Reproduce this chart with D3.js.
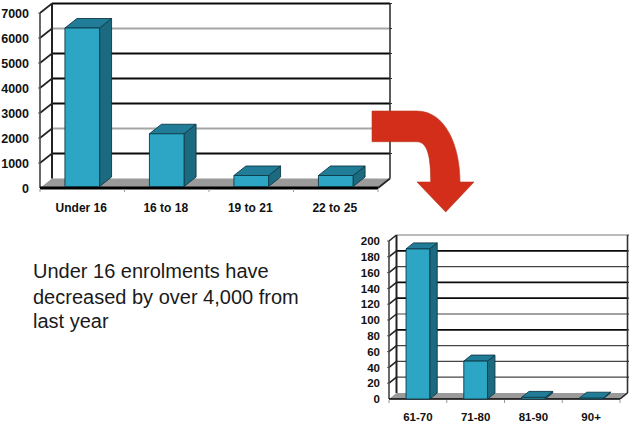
<!DOCTYPE html>
<html>
<head>
<meta charset="utf-8">
<script src="https://cdnjs.cloudflare.com/ajax/libs/d3/7.8.5/d3.min.js"></script>
<style>
html,body{margin:0;padding:0;background:#fff}
svg{display:block}
text{font-family:"Liberation Sans",Arial,sans-serif}
</style>
</head>
<body>
<svg id="slide" width="629" height="426"></svg>
<script>
// Enrolments by age band, young learners
const youngCategories = ["Under 16", "16 to 18", "19 to 21", "22 to 25"];
const youngValues = [6400, 2170, 500, 500];
const youngTicks = [0, 1000, 2000, 3000, 4000, 5000, 6000, 7000];
const youngLightGrid = [2000, 6000];
const youngMidGrid = [];

// Enrolments by age band, older learners
const olderCategories = ["61-70", "71-80", "81-90", "90+"];
const olderValues = [190, 48, 2, 1];
const olderTicks = [0, 20, 40, 60, 80, 100, 120, 140, 160, 180, 200];
const olderLightGrid = [200];
const olderMidGrid = [20, 40, 60, 100, 160];

const noteLines = ["Under 16 enrolments have", "decreased by over 4,000 from", "last year"];
const noteBaselines = [278, 304, 328];

const svg = d3.select("#slide");

const FRONT = "#2da5c4", SIDE = "#1c6a80", TOP = "#217c97", EDGE = "#0e3a47";

// Draws a bar chart with an oblique 3D box for each category.
function chart3d(o) {
  const g = svg.append("g");
  const x = d3.scaleBand().domain(o.categories).range([o.x0, o.x1]);
  const y = d3.scaleLinear().domain([0, o.max]).range([o.y0, o.yTop]);
  const dx = o.dx, dy = o.dy;
  const pts = a => a.map(p => p.join(",")).join(" ");

  // floor
  g.append("polygon")
    .attr("points", pts([[o.x0, o.y0], [o.x1, o.y0], [o.x1 + dx, o.y0 - dy], [o.x0 + dx, o.y0 - dy]]))
    .attr("fill", "#9a9a9a");

  // back-wall gridlines with their returns on both walls
  o.ticks.filter(t => t > 0).forEach(t => {
    const light = o.light.includes(t), mid = o.mid.includes(t);
    g.append("line")
      .attr("x1", o.x0 + dx).attr("x2", o.x1 + dx)
      .attr("y1", y(t) - dy).attr("y2", y(t) - dy)
      .attr("stroke", light ? "#a5a5a5" : mid ? "#444" : "#0a0a0a")
      .attr("stroke-width", mid ? o.gridWidth * 0.7 : o.gridWidth);
    g.append("line")
      .attr("x1", o.x0).attr("x2", o.x0 + dx)
      .attr("y1", y(t)).attr("y2", y(t) - dy)
      .attr("stroke", "#222").attr("stroke-width", 1.6);
    g.append("line")
      .attr("x1", o.x0 - 2).attr("x2", o.x0)
      .attr("y1", y(t)).attr("y2", y(t))
      .attr("stroke", "#666").attr("stroke-width", 1);
    g.append("line")
      .attr("x1", o.x1 + dx).attr("x2", o.x1 + dx + 2)
      .attr("y1", y(t) - dy).attr("y2", y(t) - dy)
      .attr("stroke", "#333").attr("stroke-width", 1.2);
  });

  // walls and axes
  const wall = (x1, y1, x2, y2, w, c) => g.append("line")
    .attr("x1", x1).attr("y1", y1).attr("x2", x2).attr("y2", y2)
    .attr("stroke", c).attr("stroke-width", w);
  wall(o.x0 + dx, y(o.max) - dy, o.x0 + dx, o.y0 - dy, 2, "#222");
  wall(o.x1 + dx, y(o.max) - dy, o.x1 + dx, o.y0 - dy, 1.6, "#333");
  wall(o.x1, o.y0, o.x1 + dx, o.y0 - dy, 1.6, "#222");
  wall(o.x0, y(o.max), o.x0, o.y0, 1.6, "#444");
  wall(o.x0, o.y0, o.x1, o.y0, o.baseWidth, "#000");

  // bars
  const barW = x.bandwidth() * o.barShare;
  o.values.forEach((v, i) => {
    const l = x(o.categories[i]) + (x.bandwidth() - barW) / 2 + o.barShift;
    const r = l + barW, t = y(v), b = o.y0 - o.barLift;
    const bar = g.append("g").attr("stroke", EDGE).attr("stroke-width", 0.9).attr("stroke-linejoin", "round");
    bar.append("polygon").attr("fill", SIDE)
      .attr("points", pts([[r, t], [r + dx, t - dy], [r + dx, b - dy], [r, b]]));
    bar.append("polygon").attr("fill", TOP)
      .attr("points", pts([[l, t], [l + dx, t - dy], [r + dx, t - dy], [r, t]]));
    bar.append("rect").attr("fill", FRONT)
      .attr("x", l).attr("y", t).attr("width", barW).attr("height", Math.max(b - t, 0));
  });

  // value axis labels
  g.selectAll(".ytick").data(o.ticks).join("text")
    .attr("x", o.labelRight).attr("y", d => y(d) + o.labelSize * 0.36)
    .attr("text-anchor", "end").attr("font-weight", "bold")
    .attr("font-size", o.labelSize).attr("fill", "#111").text(d => d);

  // category ticks and labels
  g.selectAll(".xtick").data(o.categories.map(c => x(c)).concat(o.x1)).join("line")
    .attr("x1", d => d).attr("x2", d => d)
    .attr("y1", o.y0 + 1).attr("y2", o.y0 + 4)
    .attr("stroke", "#999").attr("stroke-width", 1);
  g.selectAll(".xlab").data(o.categories).join("text")
    .attr("x", d => x(d) + x.bandwidth() / 2 + o.catShift).attr("y", o.catY)
    .attr("text-anchor", "middle").attr("font-weight", "bold")
    .attr("font-size", o.catSize).attr("fill", "#111").text(d => d);
}

chart3d({
  categories: youngCategories, values: youngValues, ticks: youngTicks,
  light: youngLightGrid, mid: youngMidGrid,
  max: 7000, x0: 40, x1: 378, y0: 188, yTop: 13, dx: 12, dy: 9.5,
  gridWidth: 1.8, baseWidth: 3, barShare: 0.41, barShift: 0, barLift: 1.5,
  labelSize: 12.5, labelRight: 29, catSize: 12, catShift: -1, catY: 212
});

chart3d({
  categories: olderCategories, values: olderValues, ticks: olderTicks,
  light: olderLightGrid, mid: olderMidGrid,
  max: 200, x0: 389, x1: 620, y0: 399, yTop: 241, dx: 7.5, dy: 6,
  gridWidth: 1.7, baseWidth: 1.6, barShare: 0.41, barShift: 0, barLift: 0,
  labelSize: 11.5, labelRight: 380, catSize: 11.5, catShift: 0, catY: 421
});

// Curved arrow leading from the upper chart to the lower one
svg.append("path")
  .attr("d", "M372 111 L417 111 C445 111 460 145 460 182 L474 182 L445.7 212 L417 182 L430.7 182 C430.7 158 428 142 417 141.7 L372 141.7 Z")
  .attr("fill", "#d22e1a").attr("stroke", "#b8351f").attr("stroke-width", 0.6);

// Commentary beside the lower chart
svg.append("g").selectAll("text").data(noteLines).join("text")
  .attr("x", 33).attr("y", (d, i) => noteBaselines[i])
  .attr("font-size", 20).attr("fill", "#1a1a1a").text(d => d);
</script>
</body>
</html>
